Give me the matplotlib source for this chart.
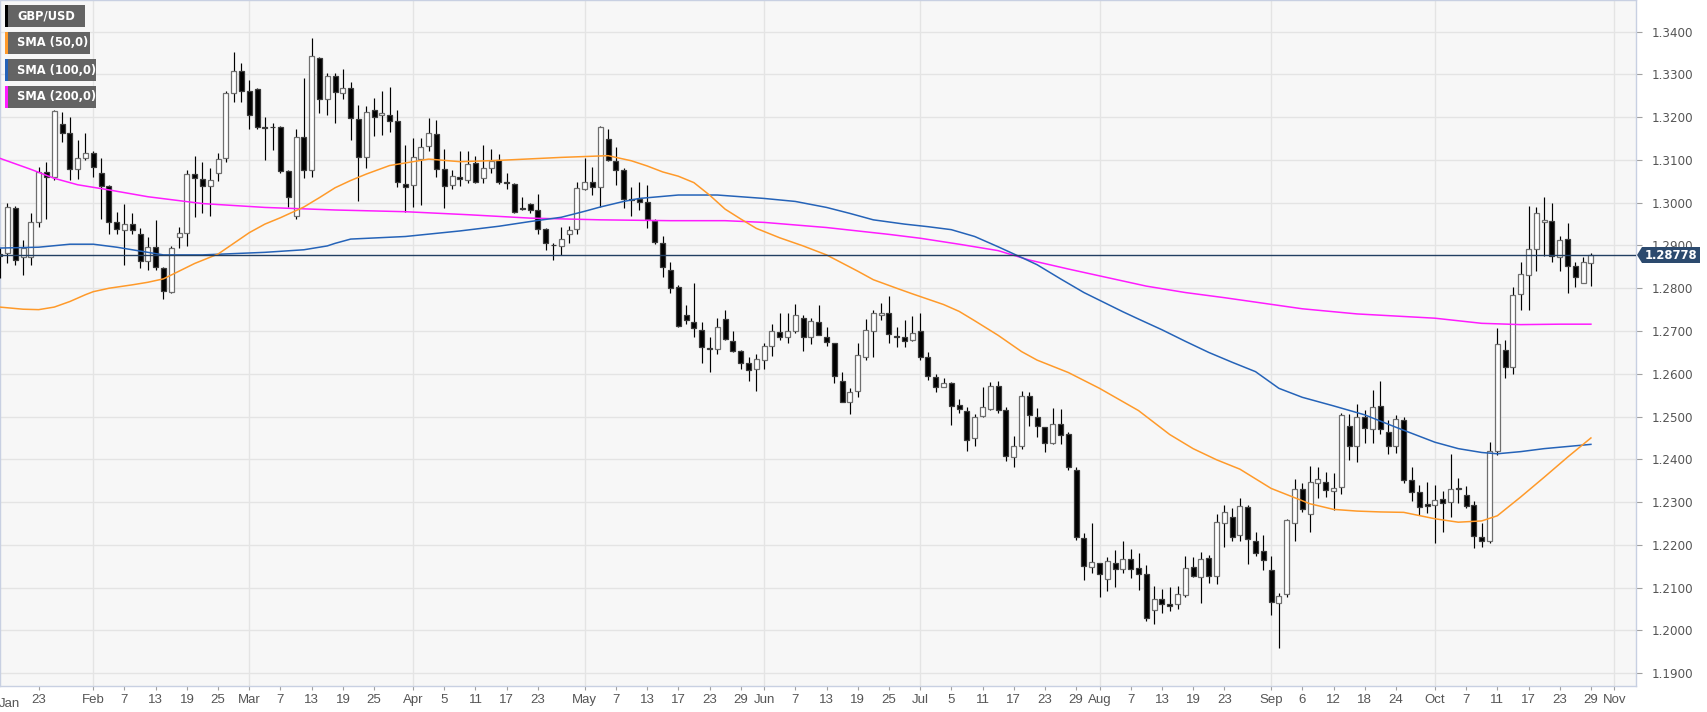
import numpy as np
import pandas as pd
import matplotlib
matplotlib.use("Agg")
import matplotlib.pyplot as plt
from matplotlib.patches import Rectangle, Polygon

# ---------------- data (daily GBP/USD, 16 Jan 2019 - 29 Oct 2019) ----------------
start_date = "2019-01-16"
end_date = "2019-10-29"

opens = [1.2880, 1.2882, 1.2987, 1.2872, 1.2872, 1.2954, 1.3073, 1.3061, 1.3183, 1.3162, 1.3078, 1.3104,
         1.3117, 1.3070, 1.3039, 1.2956, 1.2937, 1.2950, 1.2927, 1.2864, 1.2896, 1.2847, 1.2792, 1.2919,
         1.2929, 1.3067, 1.3055, 1.3038, 1.3070, 1.3104, 1.3257, 1.3307, 1.3261, 1.3265, 1.3176, 1.3178,
         1.3178, 1.3074, 1.2968, 1.3153, 1.3077, 1.3339, 1.3243, 1.3296, 1.3256, 1.3269, 1.3196, 1.3108,
         1.3217, 1.3204, 1.3205, 1.3190, 1.3044, 1.3041, 1.3102, 1.3133, 1.3160, 1.3078, 1.3041, 1.3061,
         1.3053, 1.3092, 1.3057, 1.3081, 1.3100, 1.3049, 1.3044, 1.2987, 1.2997, 1.2982, 1.2939, 1.2901,
         1.2899, 1.2927, 1.2938, 1.3032, 1.3049, 1.3036, 1.3148, 1.3098, 1.3077, 1.3008, 1.3008, 1.3001,
         1.2958, 1.2905, 1.2843, 1.2802, 1.2737, 1.2722, 1.2703, 1.2660, 1.2658, 1.2728, 1.2677, 1.2654,
         1.2625, 1.2611, 1.2633, 1.2665, 1.2697, 1.2687, 1.2701, 1.2731, 1.2685, 1.2720, 1.2685, 1.2671,
         1.2582, 1.2533, 1.2559, 1.2640, 1.2700, 1.2738, 1.2742, 1.2689, 1.2685, 1.2678, 1.2700, 1.2640,
         1.2592, 1.2570, 1.2578, 1.2527, 1.2512, 1.2450, 1.2502, 1.2517, 1.2572, 1.2516, 1.2405, 1.2431,
         1.2547, 1.2500, 1.2475, 1.2438, 1.2482, 1.2460, 1.2375, 1.2216, 1.2149, 1.2157, 1.2120, 1.2157,
         1.2143, 1.2167, 1.2146, 1.2132, 1.2048, 1.2073, 1.2061, 1.2062, 1.2082, 1.2149, 1.2125, 1.2169,
         1.2128, 1.2252, 1.2266, 1.2223, 1.2288, 1.2210, 1.2185, 1.2142, 1.2064, 1.2085, 1.2251, 1.2330,
         1.2272, 1.2344, 1.2348, 1.2326, 1.2335, 1.2478, 1.2430, 1.2500, 1.2471, 1.2525, 1.2465, 1.2430,
         1.2491, 1.2351, 1.2323, 1.2295, 1.2294, 1.2307, 1.2300, 1.2334, 1.2317, 1.2294, 1.2218, 1.2208,
         1.2420, 1.2655, 1.2615, 1.2786, 1.2831, 1.2891, 1.2954, 1.2958, 1.2872, 1.2915, 1.2851, 1.2813,
         1.2859]
highs = [1.2895, 1.2999, 1.2993, 1.2912, 1.2975, 1.3083, 1.3096, 1.3217, 1.3213, 1.3200, 1.3147, 1.3162,
         1.3120, 1.3104, 1.3042, 1.2979, 1.2997, 1.2977, 1.2940, 1.2921, 1.2960, 1.2850, 1.2898, 1.2944,
         1.3077, 1.3109, 1.3096, 1.3081, 1.3116, 1.3261, 1.3352, 1.3326, 1.3287, 1.3269, 1.3200, 1.3187,
         1.3180, 1.3076, 1.3172, 1.3291, 1.3384, 1.3340, 1.3303, 1.3303, 1.3312, 1.3282, 1.3229, 1.3225,
         1.3246, 1.3261, 1.3270, 1.3217, 1.3135, 1.3151, 1.3151, 1.3197, 1.3194, 1.3125, 1.3077, 1.3120,
         1.3122, 1.3109, 1.3134, 1.3125, 1.3114, 1.3069, 1.3046, 1.3013, 1.3000, 1.3021, 1.2940, 1.2905,
         1.2944, 1.2946, 1.3049, 1.3104, 1.3084, 1.3180, 1.3172, 1.3131, 1.3081, 1.3036, 1.3049, 1.3042,
         1.2962, 1.2922, 1.2862, 1.2808, 1.2761, 1.2813, 1.2720, 1.2685, 1.2731, 1.2748, 1.2701, 1.2655,
         1.2640, 1.2647, 1.2673, 1.2717, 1.2743, 1.2743, 1.2763, 1.2738, 1.2730, 1.2761, 1.2709, 1.2672,
         1.2605, 1.2566, 1.2673, 1.2728, 1.2749, 1.2766, 1.2783, 1.2709, 1.2725, 1.2734, 1.2742, 1.2650,
         1.2600, 1.2591, 1.2580, 1.2541, 1.2522, 1.2505, 1.2570, 1.2580, 1.2582, 1.2522, 1.2455, 1.2560,
         1.2557, 1.2519, 1.2476, 1.2521, 1.2518, 1.2464, 1.2383, 1.2227, 1.2251, 1.2158, 1.2171, 1.2187,
         1.2208, 1.2191, 1.2182, 1.2153, 1.2104, 1.2096, 1.2101, 1.2103, 1.2175, 1.2171, 1.2183, 1.2177,
         1.2272, 1.2293, 1.2286, 1.2309, 1.2294, 1.2231, 1.2223, 1.2174, 1.2087, 1.2261, 1.2354, 1.2344,
         1.2385, 1.2382, 1.2371, 1.2368, 1.2508, 1.2506, 1.2529, 1.2516, 1.2563, 1.2584, 1.2491, 1.2504,
         1.2500, 1.2381, 1.2340, 1.2346, 1.2340, 1.2325, 1.2412, 1.2356, 1.2337, 1.2302, 1.2250, 1.2440,
         1.2707, 1.2680, 1.2804, 1.2862, 1.2992, 1.2989, 1.3013, 1.3000, 1.2922, 1.2952, 1.2862, 1.2874,
         1.2882]
lows = [1.2823, 1.2858, 1.2855, 1.2830, 1.2855, 1.2943, 1.2961, 1.3053, 1.3141, 1.3053, 1.3055, 1.3099,
        1.3061, 1.2961, 1.2927, 1.2927, 1.2855, 1.2927, 1.2847, 1.2843, 1.2843, 1.2774, 1.2788, 1.2894,
        1.2898, 1.2967, 1.2976, 1.2969, 1.3050, 1.3096, 1.3236, 1.3236, 1.3172, 1.3172, 1.3100, 1.3123,
        1.3069, 1.2991, 1.2961, 1.3057, 1.3061, 1.3209, 1.3205, 1.3186, 1.3242, 1.3147, 1.3003, 1.3081,
        1.3156, 1.3158, 1.3166, 1.3036, 1.2979, 1.2990, 1.2994, 1.3122, 1.3061, 1.2987, 1.3032, 1.3038,
        1.3047, 1.3047, 1.3047, 1.3069, 1.3044, 1.3032, 1.2975, 1.2983, 1.2977, 1.2927, 1.2890, 1.2866,
        1.2878, 1.2905, 1.2927, 1.3030, 1.3018, 1.2991, 1.3097, 1.3042, 1.2987, 1.2969, 1.2982, 1.2940,
        1.2903, 1.2826, 1.2788, 1.2710, 1.2717, 1.2686, 1.2625, 1.2604, 1.2647, 1.2679, 1.2650, 1.2611,
        1.2582, 1.2560, 1.2611, 1.2642, 1.2679, 1.2671, 1.2696, 1.2654, 1.2670, 1.2690, 1.2664, 1.2578,
        1.2533, 1.2506, 1.2545, 1.2632, 1.2640, 1.2725, 1.2671, 1.2662, 1.2662, 1.2677, 1.2632, 1.2586,
        1.2558, 1.2569, 1.2481, 1.2509, 1.2420, 1.2432, 1.2500, 1.2516, 1.2509, 1.2396, 1.2382, 1.2424,
        1.2477, 1.2453, 1.2416, 1.2437, 1.2437, 1.2375, 1.2212, 1.2118, 1.2134, 1.2078, 1.2091, 1.2101,
        1.2135, 1.2122, 1.2095, 1.2022, 1.2015, 1.2040, 1.2046, 1.2050, 1.2079, 1.2126, 1.2064, 1.2110,
        1.2109, 1.2195, 1.2209, 1.2210, 1.2156, 1.2173, 1.2142, 1.2037, 1.1958, 1.2079, 1.2208, 1.2278,
        1.2231, 1.2309, 1.2311, 1.2282, 1.2319, 1.2399, 1.2393, 1.2438, 1.2438, 1.2459, 1.2412, 1.2414,
        1.2344, 1.2302, 1.2270, 1.2274, 1.2204, 1.2229, 1.2266, 1.2299, 1.2286, 1.2193, 1.2195, 1.2205,
        1.2410, 1.2590, 1.2600, 1.2748, 1.2749, 1.2841, 1.2876, 1.2861, 1.2841, 1.2790, 1.2802, 1.2812,
        1.2806]
closes = [1.2876, 1.2989, 1.2866, 1.2894, 1.2954, 1.3073, 1.3060, 1.3215, 1.3164, 1.3078, 1.3104, 1.3117,
          1.3083, 1.3039, 1.2956, 1.2938, 1.2950, 1.2937, 1.2864, 1.2896, 1.2849, 1.2794, 1.2894, 1.2929,
          1.3067, 1.3057, 1.3039, 1.3052, 1.3102, 1.3256, 1.3308, 1.3261, 1.3205, 1.3178, 1.3175, 1.3177,
          1.3075, 1.3014, 1.3153, 1.3077, 1.3342, 1.3243, 1.3296, 1.3260, 1.3269, 1.3197, 1.3108, 1.3211,
          1.3200, 1.3209, 1.3192, 1.3049, 1.3036, 1.3106, 1.3131, 1.3164, 1.3078, 1.3038, 1.3063, 1.3055,
          1.3090, 1.3049, 1.3081, 1.3098, 1.3049, 1.3047, 1.2979, 1.2985, 1.2982, 1.2938, 1.2905, 1.2900,
          1.2915, 1.2936, 1.3035, 1.3049, 1.3036, 1.3178, 1.3099, 1.3077, 1.3008, 1.3007, 1.3001, 1.2961,
          1.2907, 1.2849, 1.2800, 1.2712, 1.2726, 1.2707, 1.2662, 1.2659, 1.2710, 1.2681, 1.2654, 1.2626,
          1.2609, 1.2634, 1.2665, 1.2700, 1.2685, 1.2699, 1.2738, 1.2685, 1.2724, 1.2691, 1.2674, 1.2594,
          1.2534, 1.2557, 1.2643, 1.2703, 1.2743, 1.2742, 1.2692, 1.2685, 1.2677, 1.2695, 1.2640, 1.2595,
          1.2570, 1.2578, 1.2525, 1.2518, 1.2445, 1.2500, 1.2522, 1.2572, 1.2516, 1.2407, 1.2432, 1.2548,
          1.2504, 1.2477, 1.2439, 1.2482, 1.2456, 1.2382, 1.2218, 1.2151, 1.2159, 1.2132, 1.2163, 1.2144,
          1.2167, 1.2143, 1.2132, 1.2028, 1.2073, 1.2061, 1.2058, 1.2085, 1.2147, 1.2128, 1.2168, 1.2128,
          1.2253, 1.2277, 1.2219, 1.2290, 1.2213, 1.2182, 1.2165, 1.2066, 1.2080, 1.2257, 1.2330, 1.2283,
          1.2346, 1.2354, 1.2329, 1.2333, 1.2503, 1.2430, 1.2500, 1.2473, 1.2522, 1.2471, 1.2430, 1.2494,
          1.2351, 1.2323, 1.2288, 1.2291, 1.2305, 1.2299, 1.2330, 1.2330, 1.2292, 1.2220, 1.2208, 1.2420,
          1.2670, 1.2615, 1.2784, 1.2833, 1.2891, 1.2975, 1.2960, 1.2876, 1.2913, 1.2852, 1.2827, 1.2861,
          1.2878]

# moving averages (trading-day offset from 1 Feb 2019, value)
sma50_x = [-12, -9, -7, -5, -3, -1, 0, 2, 5, 7, 9, 11, 13, 16, 18, 20, 22, 24, 27, 29, 31, 33, 35, 38,
           43, 47, 52, 60, 66, 69, 71, 73, 75, 77, 79, 81, 83, 85, 88, 91, 94, 98, 100, 103, 105, 109, 111,
           113, 116, 119, 121, 125, 129, 134, 138, 141, 144, 147, 151, 156, 159, 162, 165, 168, 172, 175,
           178, 180, 183, 186, 189, 192]
sma50_y = [1.2756, 1.2751, 1.2750, 1.2756, 1.2769, 1.2785, 1.2792, 1.2800, 1.2808, 1.2814, 1.2822, 1.2840,
           1.2858, 1.2880, 1.2905, 1.2930, 1.2950, 1.2965, 1.2990, 1.3012, 1.3035, 1.3052, 1.3067, 1.3087,
           1.3102, 1.3096, 1.3099, 1.3106, 1.3110, 1.3098, 1.3086, 1.3072, 1.3062, 1.3047, 1.3018, 1.2985,
           1.2962, 1.2940, 1.2918, 1.2899, 1.2878, 1.2840, 1.2820, 1.2800, 1.2787, 1.2762, 1.2746, 1.2724,
           1.2690, 1.2652, 1.2632, 1.2603, 1.2566, 1.2514, 1.2458, 1.2425, 1.2399, 1.2377, 1.2332, 1.2296,
           1.2283, 1.2279, 1.2277, 1.2276, 1.2261, 1.2253, 1.2256, 1.2268, 1.2312, 1.2358, 1.2405, 1.2450]
sma100_x = [-12, -7, -3, 0, 3, 5, 9, 14, 18, 22, 27, 30, 31, 33, 40, 47, 52, 56, 60, 63, 65, 68, 70, 75,
            80, 86, 90, 94, 97, 100, 104, 107, 110, 113, 116, 119, 121, 124, 127, 129, 132, 134, 137, 140,
            143, 146, 149, 152, 155, 159, 163, 167, 172, 175, 178, 180, 183, 186, 189, 192]
sma100_y = [1.2894, 1.2896, 1.2903, 1.2903, 1.2896, 1.2890, 1.2878, 1.2878, 1.2881, 1.2884, 1.2890,
            1.2899, 1.2905, 1.2915, 1.2921, 1.2934, 1.2945, 1.2956, 1.2966, 1.2980, 1.2990, 1.3003,
            1.3010, 1.3018, 1.3018, 1.3010, 1.3003, 1.2989, 1.2975, 1.2960, 1.2950, 1.2944, 1.2937,
            1.2921, 1.2897, 1.2872, 1.2855, 1.2822, 1.2790, 1.2772, 1.2745, 1.2728, 1.2703, 1.2676,
            1.2650, 1.2627, 1.2605, 1.2566, 1.2545, 1.2525, 1.2504, 1.2475, 1.2440, 1.2425, 1.2416,
            1.2413, 1.2418, 1.2425, 1.2430, 1.2435]
sma200_x = [-12, -8, -5, -2, 2, 7, 14, 22, 31, 40, 48, 56, 65, 74, 81, 86, 90, 94, 98, 102, 106, 111, 116,
            120, 125, 130, 135, 140, 145, 150, 155, 162, 167, 172, 178, 183, 188, 192]
sma200_y = [1.3104, 1.3078, 1.3057, 1.3042, 1.3030, 1.3014, 1.2998, 1.2989, 1.2983, 1.2979, 1.2972,
            1.2964, 1.2960, 1.2958, 1.2958, 1.2954, 1.2948, 1.2942, 1.2934, 1.2926, 1.2917, 1.2903,
            1.2888, 1.2866, 1.2845, 1.2825, 1.2805, 1.2790, 1.2778, 1.2765, 1.2752, 1.2740, 1.2735,
            1.2730, 1.2718, 1.2715, 1.2716, 1.2716]

last_price = 1.28778

tick_dates = ["2019-01-23", "2019-02-01", "2019-02-07", "2019-02-13", "2019-02-19", "2019-02-25",
              "2019-03-01", "2019-03-07", "2019-03-13", "2019-03-19", "2019-03-25", "2019-04-01",
              "2019-04-05", "2019-04-11", "2019-04-17", "2019-04-23", "2019-05-01", "2019-05-07",
              "2019-05-13", "2019-05-17", "2019-05-23", "2019-05-29", "2019-06-03", "2019-06-07",
              "2019-06-13", "2019-06-19", "2019-06-25", "2019-07-01", "2019-07-05", "2019-07-11",
              "2019-07-17", "2019-07-23", "2019-07-29", "2019-08-01", "2019-08-07", "2019-08-13",
              "2019-08-19", "2019-08-23", "2019-09-02", "2019-09-06", "2019-09-12", "2019-09-18",
              "2019-09-24", "2019-10-01", "2019-10-07", "2019-10-11", "2019-10-17", "2019-10-23",
              "2019-10-29", "2019-11-01"]
tick_labels = ["23", "Feb", "7", "13", "19", "25", "Mar", "7", "13", "19", "25", "Apr", "5", "11", "17",
               "23", "May", "7", "13", "17", "23", "29", "Jun", "7", "13", "19", "25", "Jul", "5", "11",
               "17", "23", "29", "Aug", "7", "13", "19", "23", "Sep", "6", "12", "18", "24", "Oct", "7",
               "11", "17", "23", "29", "Nov"]
month_starts = ["2019-02-01", "2019-03-01", "2019-04-01", "2019-05-01", "2019-06-03", "2019-07-01",
                "2019-08-01", "2019-09-02", "2019-10-01", "2019-11-01"]

legend_names = ["GBP/USD", "SMA (50,0)", "SMA (100,0)", "SMA (200,0)"]

# ---------------- positions ----------------
axis_days = pd.bdate_range(start_date, "2019-11-01")
offset = 12  # number of January sessions before 1 Feb
pos_of = {d.strftime("%Y-%m-%d"): k - offset for k, d in enumerate(axis_days)}

o = np.array(opens); h = np.array(highs); l = np.array(lows); c = np.array(closes)
x = np.arange(len(o)) - offset

W, H = 1707, 712
fig = plt.figure(figsize=(W / 100, H / 100), dpi=100)
fig.patch.set_facecolor("white")
ax_l, ax_r, ax_b = 0, 1636, 686
ax = fig.add_axes([ax_l / W, 1 - ax_b / H, (ax_r - ax_l) / W, ax_b / H])
ax.set_facecolor("#f7f7f7")
ax.set_xlim(-11.96, 197.78)
ax.set_ylim(1.1870, 1.3474)

# grid
yt = np.round(np.arange(1.19, 1.3401, 0.01), 2)
for v in yt:
    ax.axhline(v, color="#e4e4e4", lw=1.0, zorder=0)
for m in month_starts:
    ax.axvline(pos_of[m], color="#e4e4e4", lw=1.0, zorder=0)

# candles
up = c >= o
bottom = np.minimum(o, c)
height = np.maximum(np.abs(c - o), 0.00012)
ax.vlines(x, l, h, color="black", lw=0.85, zorder=3)
ax.bar(x[up], height[up], bottom=bottom[up], width=0.62, color="white",
       edgecolor="#6f6f6f", linewidth=0.9, zorder=4)
ax.bar(x[~up], height[~up], bottom=bottom[~up], width=0.62, color="black",
       edgecolor="#3a3a3a", linewidth=0.9, zorder=4)

# moving averages
c50, c100, c200 = "#ff9a2a", "#2563b8", "#ff1cff"
ax.plot(sma200_x, sma200_y, color=c200, lw=1.1, zorder=5, solid_joinstyle="round")
ax.plot(sma100_x, sma100_y, color=c100, lw=1.1, zorder=5, solid_joinstyle="round")
ax.plot(sma50_x, sma50_y, color=c50, lw=1.1, zorder=5, solid_joinstyle="round")

# last price line
navy = "#223f62"
ax.axhline(last_price, color=navy, lw=1.0, zorder=6)

# axes styling
for s in ax.spines.values():
    s.set_color("#c8d0e2")
    s.set_linewidth(1.0)
ax.yaxis.tick_right()
ax.set_yticks(yt)
ax.set_yticklabels([f"{v:.4f}" for v in yt], fontsize=8.6, color="#555555",
                   family=["DejaVu Sans"])
ax.tick_params(axis="y", length=4, color="#a0a0a0", pad=7, width=0.8)
ax.set_xticks([pos_of[d] for d in tick_dates])
ax.set_xticklabels(tick_labels, fontsize=9.5, color="#555555",
                   family=["Liberation Sans Narrow", "Liberation Sans", "DejaVu Sans"])
ax.tick_params(axis="x", length=3, color="#a0a0a0", pad=3, width=0.8)
ax.text(-10.7, -0.018, "Jan", transform=ax.get_xaxis_transform(), ha="center", va="top",
        fontsize=9.5, color="#555555",
        family=["Liberation Sans Narrow", "Liberation Sans", "DejaVu Sans"])

# last price tag
def fx(px):
    return px / W

def fy(py):
    return 1 - py / H

ty0, ty1, tyc = 247, 263, 255
tag = Polygon([(fx(1637), fy(tyc)), (fx(1642), fy(ty0)), (fx(1700), fy(ty0)),
               (fx(1700), fy(ty1)), (fx(1642), fy(ty1))], closed=True,
              transform=fig.transFigure, facecolor="#2c4a6e", edgecolor="none", zorder=10)
fig.patches.append(tag)
fig.text(fx(1671), fy(tyc), f"{last_price:.5f}", ha="center", va="center", color="white",
         fontsize=8.4, fontweight="bold", family=["DejaVu Sans"], zorder=11)

# legend boxes
legend_colors = ["black", c50, c100, c200]
boxes = [(5, 85, 5, 27), (5, 90, 32, 54), (5, 96, 59, 81), (5, 96, 86, 108)]
for name, col, (x0, x1, y0, y1) in zip(legend_names, legend_colors, boxes):
    fig.patches.append(Rectangle((fx(x0), fy(y1)), fx(x1 - x0), (y1 - y0) / H,
                                 transform=fig.transFigure, facecolor="#585858",
                                 alpha=0.92, edgecolor="none", zorder=10))
    fig.patches.append(Rectangle((fx(x0), fy(y1)), fx(3), (y1 - y0) / H,
                                 transform=fig.transFigure, facecolor=col,
                                 edgecolor="none", zorder=11))
    fig.text(fx(17), fy((y0 + y1) / 2), name, ha="left", va="center", color="white",
             fontsize=8.3, fontweight="bold", family=["DejaVu Sans"], zorder=12)

fig.savefig("out.png", dpi=100)
